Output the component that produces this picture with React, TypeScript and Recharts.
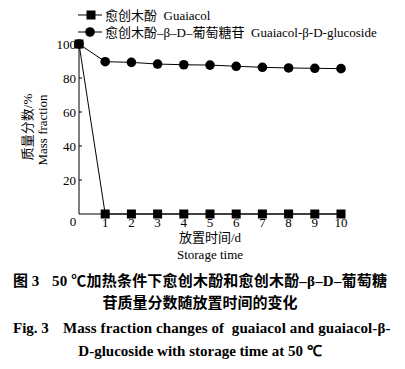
import React from 'react';
import { LineChart, Line, XAxis, YAxis } from 'recharts';

const days = [0, 1, 2, 3, 4, 5, 6, 7, 8, 9, 10];
const guaiacol = [100, 0, 0, 0, 0, 0, 0, 0, 0, 0, 0];
const glucoside = [100, 89.6, 89.2, 88.2, 87.8, 87.6, 86.9, 86.3, 85.9, 85.7, 85.5];
const xTicks = [0, 1, 2, 3, 4, 5, 6, 7, 8, 9, 10];
const yTicks = [20, 40, 60, 80, 100];

const data = days.map((d, i) => ({ day: d, guaiacol: guaiacol[i], glucoside: glucoside[i] }));

const serif = '"Liberation Serif", "Times New Roman", serif';
const cjk = '"Liberation Serif", "Noto Sans CJK SC", serif';

const SquareDot = (props: any) => {
  const { cx, cy } = props;
  if (cx == null || cy == null) return null;
  return <rect x={cx - 4.5} y={cy - 4.5} width={9} height={9} fill="#000" />;
};

const CircleDot = (props: any) => {
  const { cx, cy } = props;
  if (cx == null || cy == null) return null;
  return <circle cx={cx} cy={cy} r={4.8} fill="#000" />;
};

const XTick = (props: any) => {
  const { x, y, payload } = props;
  const zero = payload.value === 0;
  return (
    <text x={x + (zero ? -6 : 0)} y={y + (zero ? -1 : 0)} dy="0.71em" textAnchor="middle"
      fontFamily={serif} fontSize={13} fill="#000">
      {payload.value}
    </text>
  );
};

const YTick = (props: any) => {
  const { x, y, payload } = props;
  return (
    <g>
      <line x1={x + 3} x2={x + 6} y1={y} y2={y} stroke="#000" strokeWidth={1} />
      <text x={x} y={y} dy="0.355em" textAnchor="end" fontFamily={serif} fontSize={13} fill="#000">
        {payload.value}
      </text>
    </g>
  );
};

const abs = (left: number, top: number): React.CSSProperties => ({
  position: 'absolute', left, top, whiteSpace: 'pre', lineHeight: 1,
});

const pre: React.CSSProperties = { whiteSpace: 'pre' };

export default function App() {
  return (
    <div style={{ position: 'absolute', left: 0, top: 0, width: 405, height: 369, background: '#fff', overflow: 'hidden' }}>
      <LineChart width={405} height={240} data={data} margin={{ top: 44, right: 64, bottom: 0, left: 0 }}>
        <XAxis dataKey="day" type="number" domain={[0, 10]} ticks={xTicks} interval={0}
          tick={<XTick />} tickLine={false} tickSize={0} tickMargin={4} height={26}
          axisLine={{ stroke: '#000', strokeWidth: 1 }} />
        <YAxis type="number" domain={[0, 100]} ticks={yTicks} interval={0}
          tick={<YTick />} tickLine={false} tickSize={0} tickMargin={3} width={79}
          axisLine={{ stroke: '#000', strokeWidth: 1 }} />
        <Line dataKey="glucoside" stroke="#000" strokeWidth={1} dot={<CircleDot />} isAnimationActive={false} type="linear" />
        <Line dataKey="guaiacol" stroke="#000" strokeWidth={1} dot={<SquareDot />} isAnimationActive={false} type="linear" />
      </LineChart>

      <svg width={405} height={369} style={{ position: 'absolute', left: 0, top: 0, pointerEvents: 'none' }}>
        <line x1={78} x2={102} y1={15} y2={15} stroke="#000" />
        <rect x={86.5} y={10.5} width={9} height={9} fill="#000" />
        <text x={105} y={15} dy="0.355em" fontFamily={cjk} fontSize={13} fill="#000" style={pre}>愈创木酚  Guaiacol</text>
        <line x1={78} x2={102} y1={32} y2={32} stroke="#000" />
        <circle cx={90} cy={32} r={4.8} fill="#000" />
        <text x={105} y={32} dy="0.355em" fontFamily={cjk} fontSize={13} fill="#000" style={pre}>愈创木酚–β–D–葡萄糖苷  Guaiacol-β-D-glucoside</text>

        <text transform="translate(27,127) rotate(-90)" textAnchor="middle" dy="0.355em" fontFamily={cjk} fontSize={13} fill="#000">质量分数/%</text>
        <text transform="translate(42,130) rotate(-90)" textAnchor="middle" dy="0.355em" fontFamily={serif} fontSize={13} fill="#000">Mass fraction</text>

        <text x={210} y={237} textAnchor="middle" dy="0.355em" fontFamily={cjk} fontSize={13} fill="#000">放置时间/d</text>
        <text x={210} y={254} textAnchor="middle" dy="0.355em" fontFamily={serif} fontSize={13} fill="#000">Storage time</text>
      </svg>

      <div style={{ ...abs(13, 274), fontFamily: cjk, fontWeight: 'bold', fontSize: 15 }}>
        图 3
      </div>
      <div style={{ ...abs(52, 274), fontFamily: cjk, fontWeight: 'bold', fontSize: 15, letterSpacing: 0.2 }}>
        50 ℃加热条件下愈创木酚和愈创木酚–β–D–葡萄糖
      </div>
      <div style={{ position: 'absolute', left: 0, width: 400, top: 296, textAlign: 'center', lineHeight: 1, fontFamily: cjk, fontWeight: 'bold', fontSize: 15 }}>
        苷质量分数随放置时间的变化
      </div>
      <div style={{ ...abs(13, 321), fontFamily: serif, fontWeight: 'bold', fontSize: 15 }}>
        Fig. 3
      </div>
      <div style={{ ...abs(63, 321), fontFamily: serif, fontWeight: 'bold', fontSize: 15, letterSpacing: 0.1 }}>
        Mass fraction changes of  guaiacol and guaiacol-β-
      </div>
      <div style={{ position: 'absolute', left: 0, width: 400, top: 344, textAlign: 'center', lineHeight: 1, fontFamily: serif, fontWeight: 'bold', fontSize: 15 }}>
        D-glucoside with storage time at 50 ℃
      </div>
    </div>
  );
}
